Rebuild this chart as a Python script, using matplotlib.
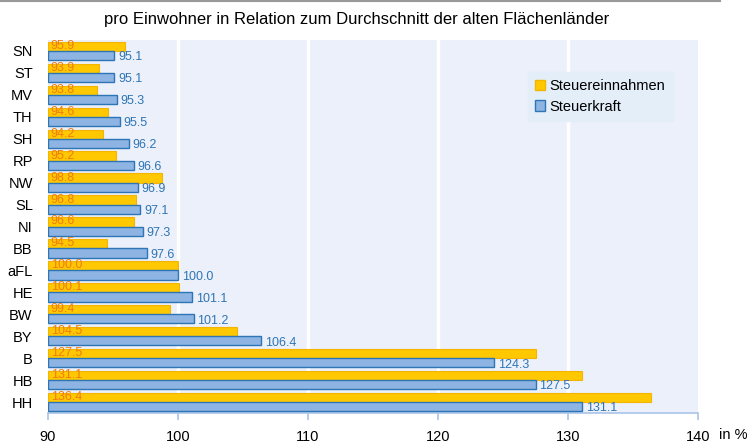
import matplotlib
matplotlib.use("Agg")
import matplotlib.pyplot as plt
import numpy as np
from matplotlib.patches import Patch
from matplotlib.lines import Line2D

plt.rcParams['font.family'] = ['Liberation Sans', 'DejaVu Sans']

categories = ["SN", "ST", "MV", "TH", "SH", "RP", "NW", "SL", "NI", "BB",
              "aFL", "HE", "BW", "BY", "B", "HB", "HH"]
steuereinnahmen = [95.9, 93.9, 93.8, 94.6, 94.2, 95.2, 98.8, 96.8, 96.6, 94.5,
                   100.0, 100.1, 99.4, 104.5, 127.5, 131.1, 136.4]
steuerkraft = [95.1, 95.1, 95.3, 95.5, 96.2, 96.6, 96.9, 97.1, 97.3, 97.6,
               100.0, 101.1, 101.2, 106.4, 124.3, 127.5, 131.1]
xticks = [90, 100, 110, 120, 130, 140]

base = 90
fig = plt.figure(figsize=(7.5, 4.43), dpi=100)
ax = fig.add_axes([0.064, 0.0677, 0.8667, 0.842])
ax.set_facecolor('#EBF0FA')

y = np.arange(len(categories))
h = 0.42
yel = '#FFC800'
yel_edge = '#F5B400'
blu = '#8DB4E2'
blu_edge = '#2E75B6'

ax.barh(y - h / 2, np.array(steuereinnahmen) - base, left=base, height=h,
        color=yel, edgecolor=yel_edge, linewidth=0.8, zorder=3)
ax.barh(y + h / 2, np.array(steuerkraft) - base, left=base, height=h,
        color=blu, edgecolor=blu_edge, linewidth=1.0, zorder=3)

for i, (a, b) in enumerate(zip(steuereinnahmen, steuerkraft)):
    ax.text(base + 0.2, i - h / 2 - 0.02, f"{a:.1f}", color='#F07C10', fontsize=9,
            va='center', ha='left', zorder=4)
    ax.text(b + 0.3, i + h / 2 + 0.08, f"{b:.1f}", color='#2E75B6', fontsize=9,
            va='center', ha='left', zorder=4)

ax.set_xlim(90, 140)
ax.set_ylim(len(categories) - 0.5, -0.5)
ax.set_xticks(xticks)
ax.set_xticklabels([str(t) for t in xticks], fontsize=10.5)
ax.set_yticks(y)
ax.set_yticklabels(categories, fontsize=10.5)
for t in xticks[1:-1]:
    ax.axvline(t, color='white', linewidth=2.5, zorder=1)

for s in ['top', 'right', 'left']:
    ax.spines[s].set_visible(False)
ax.spines['bottom'].set_color('#A9C4E8')
ax.spines['bottom'].set_linewidth(1.2)
ax.tick_params(axis='x', colors='#A9C4E8', length=5, width=1.2, labelcolor='black', pad=7)
ax.tick_params(axis='y', length=0, pad=11, labelcolor='black')

fig.text(0.476, 0.957, "pro Einwohner in Relation zum Durchschnitt der alten Flächenländer",
         ha='center', va='center', fontsize=12)
fig.text(0.978, 0.019, "in %", ha='center', va='center', fontsize=10.5)
fig.add_artist(Line2D([0, 0.96], [0.998, 0.998], color='#999999', linewidth=1.5))

handles = [Patch(facecolor=yel, edgecolor=yel_edge, label='Steuereinnahmen'),
           Patch(facecolor=blu, edgecolor=blu_edge, label='Steuerkraft')]
leg = ax.legend(handles=handles, loc='upper left', bbox_to_anchor=(0.738, 0.915),
                fontsize=10.5, frameon=True, fancybox=False, handlelength=0.7,
                handleheight=0.7, handletextpad=0.3, labelspacing=0.45,
                borderpad=0.5, borderaxespad=0)
leg.get_frame().set_facecolor('#E3EEF9')
leg.get_frame().set_edgecolor('#E3EEF9')
leg.get_frame().set_alpha(1)

fig.savefig('out.png', dpi=100)
